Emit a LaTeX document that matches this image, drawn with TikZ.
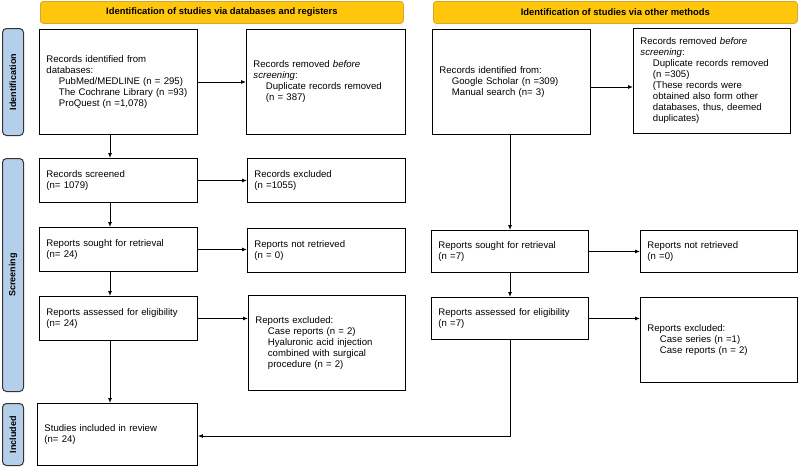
\documentclass[tikz,border=0pt]{standalone}
\usepackage{fontspec}
\setmainfont{Liberation Sans}
\usetikzlibrary{arrows.meta}
\definecolor{hdr}{HTML}{FFC60B}
\definecolor{hdrb}{HTML}{D8A62A}
\definecolor{side}{HTML}{B4CFEA}
\tikzset{
  box/.style={draw=black, line width=0.9pt, anchor=north west, align=left, inner xsep=7pt, inner ysep=4pt, font=\fontsize{9.6}{11}\selectfont},
  hdrbox/.style={draw=hdrb, fill=hdr, rounded corners=3pt, line width=0.8pt, anchor=north west, font=\bfseries\fontsize{9.4}{11}\selectfont},
  sidebar/.style={draw=black!80, fill=side, rounded corners=4pt, line width=1pt, anchor=north west, minimum width=21pt},
  sidelbl/.style={rotate=90, font=\bfseries\fontsize{9}{10}\selectfont},
  arr/.style={draw, line width=0.9pt, -{Latex[length=5pt,width=4pt]}}
}
\newcommand{\ind}{\hspace*{1.3em}}
\begin{document}
\begin{tikzpicture}[x=1pt,y=-1pt]
\useasboundingbox (0,0) rectangle (800,467);
% headers
\node[hdrbox, minimum width=363pt, minimum height=22pt] (h1) at (40,1) {Identification of studies via databases and registers};
\node[hdrbox, minimum width=364pt, minimum height=22pt] (h2) at (433,1) {Identification of studies via other methods};
% side bars
\node[sidebar, minimum height=107pt] (s1) at (2,28) {};
\node[sidelbl] at (s1.center) {Identification};
\node[sidebar, minimum height=233pt] (s2) at (2,158) {};
\node[sidelbl] at (s2.center) {Screening};
\node[sidebar, minimum height=62pt] (s3) at (2,403) {};
\node[sidelbl] at (s3.center) {Included};
% left column
\node[box, text width=144pt, minimum height=105pt] (a1) at (39,29) {Records identified from\\databases:\\\ind PubMed/MEDLINE (n = 295)\\\ind The Cochrane Library (n =93)\\\ind ProQuest (n =1,078)};
\node[box, text width=145pt, minimum height=105pt] (b1) at (246,29) {Records removed \textit{before}\\\textit{screening}:\\\ind Duplicate records removed\\\ind (n = 387)};
\node[box, text width=144pt, minimum height=44pt] (a2) at (39,158) {Records screened\\(n= 1079)};
\node[box, text width=144pt, minimum height=44pt] (b2) at (247,158) {Records excluded\\(n =1055)};
\node[box, text width=144pt, minimum height=44pt] (a3) at (39,227) {Reports sought for retrieval\\(n= 24)};
\node[box, text width=144pt, minimum height=44pt] (b3) at (247,228) {Reports not retrieved\\(n = 0)};
\node[box, text width=144pt, minimum height=44pt] (a4) at (39,296) {Reports assessed for eligibility\\(n= 24)};
\node[box, text width=143pt, minimum height=95pt] (b4) at (248,295) {Reports excluded:\\\ind Case reports (n = 2)\\\ind Hyaluronic acid injection\\\ind combined with surgical\\\ind procedure (n = 2)};
\node[box, text width=146pt, minimum height=62pt] (a5) at (37,403) {Studies included in review\\(n= 24)};
% right column
\node[box, text width=144pt, minimum height=105pt] (c1) at (432,29) {Records identified from:\\\ind Google Scholar (n =309)\\\ind Manual search (n= 3)};
\node[box, text width=143pt, minimum height=105pt] (d1) at (633,28) {Records removed \textit{before}\\\textit{screening}:\\\ind Duplicate records removed\\\ind (n =305)\\\ind (These records were\\\ind obtained also form other\\\ind databases, thus, deemed\\\ind duplicates)};
\node[box, text width=143pt, minimum height=42pt] (c3) at (431,230) {Reports sought for retrieval\\(n =7)};
\node[box, text width=143pt, minimum height=42pt] (d3) at (640,230) {Reports not retrieved\\(n =0)};
\node[box, text width=143pt, minimum height=42pt] (c4) at (431,297) {Reports assessed for eligibility\\(n =7)};
\node[box, text width=143pt, minimum height=85pt] (d4) at (640,297) {Reports excluded:\\\ind Case series (n =1)\\\ind Case reports (n = 2)};
% arrows
\draw[arr] (a1.east) -- (a1.east -| b1.west);
\draw[arr] (a2.east) -- (a2.east -| b2.west);
\draw[arr] (a3.east) -- (a3.east -| b3.west);
\draw[arr] (a4.east) -- (a4.east -| b4.west);
\draw[arr] (a1.south -| 110,0) -- (a2.north -| 110,0);
\draw[arr] (a2.south -| 110,0) -- (a3.north -| 110,0);
\draw[arr] (a3.south -| 110,0) -- (a4.north -| 110,0);
\draw[arr] (a4.south -| 110,0) -- (a5.north -| 110,0);
\draw[arr] (c1.east |- 0,87) -- (d1.west |- 0,87);
\draw[arr] (c3.east) -- (c3.east -| d3.west);
\draw[arr] (c4.east) -- (c4.east -| d4.west);
\draw[arr] (c1.south -| 510,0) -- (c3.north -| 510,0);
\draw[arr] (c3.south -| 510,0) -- (c4.north -| 510,0);
\draw[arr] (c4.south -| 510,0) -- (510,436) -- (a5.east |- 0,436);
\end{tikzpicture}
\end{document}
